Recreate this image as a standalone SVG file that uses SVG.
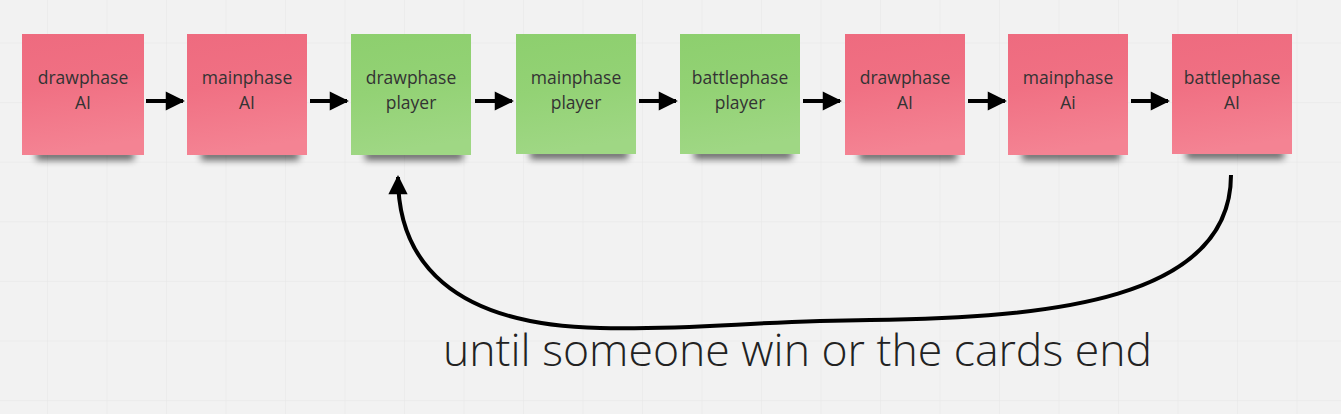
<svg xmlns="http://www.w3.org/2000/svg" width="1341" height="414" viewBox="0 0 1341 414">
<defs>
  <pattern id="grid" x="47" y="42.5" width="59.5" height="59.6" patternUnits="userSpaceOnUse">
    <path d="M0,0 H59.5 M0,0 V59.6" fill="none" stroke="#e6e6e6" stroke-width="1"/>
  </pattern>
  <linearGradient id="pink" x1="0" y1="0" x2="0.15" y2="1">
    <stop offset="0" stop-color="#ee6b7f"/>
    <stop offset="0.45" stop-color="#f07083"/>
    <stop offset="1" stop-color="#f48393"/>
  </linearGradient>
  <linearGradient id="green" x1="0" y1="0" x2="0.15" y2="1">
    <stop offset="0" stop-color="#8dcf6e"/>
    <stop offset="0.5" stop-color="#93d275"/>
    <stop offset="1" stop-color="#9fd784"/>
  </linearGradient>
  <filter id="blur" x="-20%" y="-100%" width="140%" height="300%">
    <feGaussianBlur stdDeviation="3.5"/>
  </filter>
  <marker id="head2" viewBox="0 0 10 10" refX="9" refY="5" markerWidth="5.5" markerHeight="4.8" orient="auto" markerUnits="strokeWidth">
    <path d="M0,0 L10,5 L0,10 Z" fill="#000"/>
  </marker>
</defs>
<style>
  .shadow { fill: #000; opacity: 0.6; filter: url(#blur); }
  .pink { fill: url(#pink); }
  .green { fill: url(#green); }
  .lbl { font-family: "Open Sans", "Liberation Sans", sans-serif; font-size: 17.5px; fill: #333; text-anchor: middle; }
  .conn { stroke: #000; stroke-width: 4; fill: none; }
  .big { font-family: "Open Sans", "Liberation Sans", sans-serif; font-size: 45px; font-weight: 300; fill: #222; }
</style>
<rect width="1341" height="414" fill="#f2f2f2"/>
<rect width="1341" height="414" fill="url(#grid)"/>

<g id="node1">
  <rect class="shadow" x="36" y="151" width="98" height="9"/>
  <rect class="pink" x="22" y="34" width="122" height="121"/>
  <text class="lbl" x="83" y="84">drawphase</text>
  <text class="lbl" x="83" y="109">AI</text>
</g>
<g id="node2">
  <rect class="shadow" x="201" y="151" width="98" height="9"/>
  <rect class="pink" x="187" y="34" width="120" height="121"/>
  <text class="lbl" x="247" y="84">mainphase</text>
  <text class="lbl" x="247" y="109">AI</text>
</g>
<g id="node3">
  <rect class="shadow" x="365" y="151" width="98" height="9"/>
  <rect class="green" x="351" y="34" width="120" height="121"/>
  <text class="lbl" x="411" y="84">drawphase</text>
  <text class="lbl" x="411" y="109">player</text>
</g>
<g id="node4">
  <rect class="shadow" x="530" y="150" width="98" height="9"/>
  <rect class="green" x="516" y="34" width="120" height="120"/>
  <text class="lbl" x="576" y="84">mainphase</text>
  <text class="lbl" x="576" y="109">player</text>
</g>
<g id="node5">
  <rect class="shadow" x="694" y="150" width="98" height="9"/>
  <rect class="green" x="680" y="34" width="120" height="120"/>
  <text class="lbl" x="740" y="84">battlephase</text>
  <text class="lbl" x="740" y="109">player</text>
</g>
<g id="node6">
  <rect class="shadow" x="859" y="151" width="98" height="9"/>
  <rect class="pink" x="845" y="34" width="120" height="121"/>
  <text class="lbl" x="905" y="84">drawphase</text>
  <text class="lbl" x="905" y="109">AI</text>
</g>
<g id="node7">
  <rect class="shadow" x="1022" y="151" width="98" height="9"/>
  <rect class="pink" x="1008" y="34" width="120" height="121"/>
  <text class="lbl" x="1068" y="84">mainphase</text>
  <text class="lbl" x="1068" y="109">Ai</text>
</g>
<g id="node8">
  <rect class="shadow" x="1186" y="150" width="98" height="9"/>
  <rect class="pink" x="1172" y="34" width="120" height="120"/>
  <text class="lbl" x="1232" y="84">battlephase</text>
  <text class="lbl" x="1232" y="109">AI</text>
</g>

<g id="connectors">
  <line class="conn" x1="146" y1="101" x2="183" y2="101" marker-end="url(#head2)"/>
  <line class="conn" x1="310" y1="101" x2="347" y2="101" marker-end="url(#head2)"/>
  <line class="conn" x1="475" y1="101" x2="512" y2="101" marker-end="url(#head2)"/>
  <line class="conn" x1="639" y1="101" x2="676" y2="101" marker-end="url(#head2)"/>
  <line class="conn" x1="803" y1="101" x2="840" y2="101" marker-end="url(#head2)"/>
  <line class="conn" x1="968" y1="101" x2="1005" y2="101" marker-end="url(#head2)"/>
  <line class="conn" x1="1131" y1="101" x2="1168" y2="101" marker-end="url(#head2)"/>
  <path class="conn" d="M1231,175 C1231,300 1050,318 870,320 C750,321 700,330 600,328 C450,325 398,260 398,177" marker-end="url(#head2)"/>
</g>

<text class="big" x="443" y="366" textLength="709" lengthAdjust="spacingAndGlyphs">until someone win or the cards end</text>
</svg>
